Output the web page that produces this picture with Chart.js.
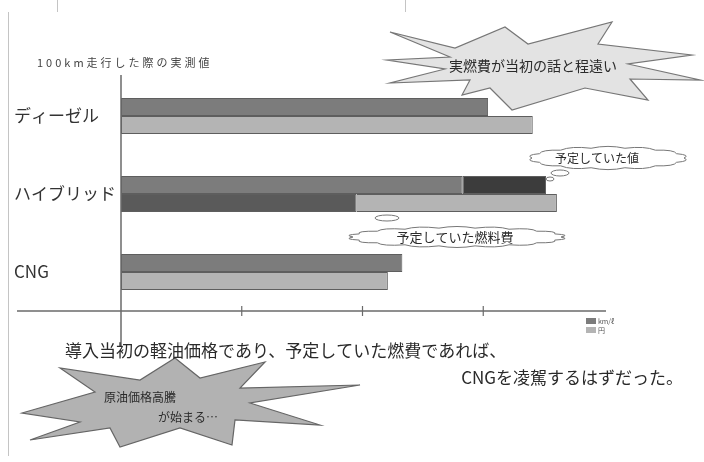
<!DOCTYPE html>
<html><head><meta charset="utf-8">
<script src="https://cdn.jsdelivr.net/npm/chart.js@4/dist/chart.umd.min.js"></script>
<style>html,body{margin:0;padding:0;background:#fff;}#wrap{width:704px;height:462px;}</style>
</head><body><div id="wrap"><canvas id="c" width="704" height="462"></canvas></div>
<script>
const categories = ['ディーゼル', 'ハイブリッド', 'CNG'];
const measuredTop = [3.04, 2.83, 2.33];
const plannedValueExtra = [0, 0.69, 0];
const plannedFuelCost = [0, 1.95, 0];
const measuredBottom = [3.41, 1.66, 2.21];
const xTicks = [0, 1, 2, 3, 4];
const legendLabels = ['km/ℓ', '円'];
const chartTitle = '100km走行した際の実測値';
const noteLines = ['導入当初の軽油価格であり、予定していた燃費であれば、', 'CNGを凌駕するはずだった。'];
const burstTop = '実燃費が当初の話と程遠い';
const burstBottom = ['原油価格高騰', 'が始まる…'];
const cloudA = '予定していた値';
const cloudB = '予定していた燃料費';

const JP = '"Noto Sans CJK JP", "Noto Sans", sans-serif';

function starPath(ctx, pts){
  ctx.beginPath();
  ctx.moveTo(pts[0][0], pts[0][1]);
  for (let i = 1; i < pts.length; i++) ctx.lineTo(pts[i][0], pts[i][1]);
  ctx.closePath();
}
function cloud(ctx, cx, cy, rx, ry, n){
  ctx.beginPath();
  for (let i = 0; i <= n; i++){
    const a = i / n * Math.PI * 2;
    const px = cx + rx * Math.cos(a), py = cy + ry * Math.sin(a);
    if (i === 0) { ctx.moveTo(px, py); continue; }
    const am = (i - 0.5) / n * Math.PI * 2;
    ctx.quadraticCurveTo(cx + rx * 1.12 * Math.cos(am), cy + ry * 1.35 * Math.sin(am), px, py);
  }
  ctx.closePath();
}

const decor = {
  id: 'decor',
  afterDraw(chart){
    const ctx = chart.ctx, xs = chart.scales.x, ca = chart.chartArea;
    ctx.save();
    // frame
    ctx.strokeStyle = '#c4c4c4'; ctx.lineWidth = 1;
    ctx.beginPath(); ctx.moveTo(8.5, 12); ctx.lineTo(8.5, 456); ctx.stroke();
    ctx.beginPath(); ctx.moveTo(57.5, 0); ctx.lineTo(57.5, 12); ctx.moveTo(405.5, 0); ctx.lineTo(405.5, 12); ctx.stroke();
    // axes
    const x0 = xs.getPixelForValue(0);
    ctx.strokeStyle = '#6a6a6a'; ctx.lineWidth = 1.5;
    ctx.beginPath(); ctx.moveTo(17, ca.bottom); ctx.lineTo(xs.getPixelForValue(xTicks[xTicks.length-1]) + 2, ca.bottom); ctx.stroke();
    ctx.beginPath(); ctx.moveTo(x0, ca.top - 2); ctx.lineTo(x0, ca.bottom + 36); ctx.stroke();
    ctx.lineWidth = 1.2;
    xTicks.slice(1, -1).forEach(v => {
      const px = xs.getPixelForValue(v);
      ctx.beginPath(); ctx.moveTo(px, ca.bottom - 5); ctx.lineTo(px, ca.bottom + 5); ctx.stroke();
    });
    // title
    ctx.fillStyle = '#444'; ctx.font = '11px ' + JP; ctx.textBaseline = 'middle'; ctx.textAlign = 'left';
    ctx.letterSpacing = '3px';
    ctx.fillText(chartTitle, 37, 63);
    ctx.letterSpacing = '0px';
    // legend
    const ds = chart.data.datasets;
    [ds[0], ds[3]].forEach((d, i) => {
      ctx.fillStyle = d.backgroundColor;
      ctx.fillRect(586, 318 + i * 9, 10, 6);
      ctx.fillStyle = '#555'; ctx.font = '7px ' + JP;
      ctx.fillText(legendLabels[i], 598, 321 + i * 9);
    });
    // top-right burst
    const p1 = [[390,32],[455,48],[505,27],[528,44],[612,22],[598,44],[692,55],[628,64],[700,80],[630,79],[648,100],[585,88],[512,110],[490,88],[462,95],[470,80],[390,83],[445,69],[387,60],[450,57]];
    starPath(ctx, p1); ctx.fillStyle = '#e3e3e3'; ctx.fill(); ctx.strokeStyle = '#777'; ctx.lineWidth = 1.2; ctx.stroke();
    ctx.fillStyle = '#2a2a2a'; ctx.font = '14px ' + JP; ctx.textAlign = 'center';
    ctx.fillText(burstTop, 533, 66);
    // bottom-left burst
    const p2 = [[22,413],[95,392],[60,368],[140,380],[175,358],[200,378],[265,362],[240,388],[360,385],[250,403],[320,425],[235,420],[232,445],[180,428],[120,447],[110,428],[30,440],[80,422]];
    starPath(ctx, p2); ctx.fillStyle = '#b2b2b2'; ctx.fill(); ctx.strokeStyle = '#666'; ctx.stroke();
    ctx.fillStyle = '#2a2a2a'; ctx.font = '12px ' + JP; ctx.textAlign = 'left';
    ctx.fillText(burstBottom[0], 104, 397);
    ctx.fillText(burstBottom[1], 158, 417);
    // clouds
    ctx.strokeStyle = '#777'; ctx.lineWidth = 1; ctx.fillStyle = '#fff';
    cloud(ctx, 608, 158, 76, 10, 14); ctx.fill(); ctx.stroke();
    ctx.beginPath(); ctx.ellipse(560, 173, 9, 3, 0, 0, Math.PI * 2); ctx.stroke();
    ctx.beginPath(); ctx.ellipse(550, 179, 4, 2, 0, 0, Math.PI * 2); ctx.stroke();
    ctx.fillStyle = '#2a2a2a'; ctx.font = '12px ' + JP; ctx.textAlign = 'center';
    ctx.fillText(cloudA, 597, 158);
    ctx.fillStyle = '#fff';
    cloud(ctx, 457, 237, 104, 9, 18); ctx.fill(); ctx.stroke();
    ctx.beginPath(); ctx.ellipse(387, 218, 12, 3, 0, 0, Math.PI * 2); ctx.stroke();
    ctx.fillStyle = '#2a2a2a'; ctx.font = '13px ' + JP;
    ctx.fillText(cloudB, 455, 237);
    // notes
    ctx.font = '17px ' + JP; ctx.textAlign = 'left'; ctx.fillStyle = '#2a2a2a';
    ctx.fillText(noteLines[0], 65, 351);
    ctx.textAlign = 'right';
    ctx.fillText(noteLines[1], 683, 378);
    ctx.restore();
  }
};

new Chart(document.getElementById('c'), {
  type: 'bar',
  data: {
    labels: categories,
    datasets: [
      { label: legendLabels[0], data: measuredTop, stack: 'top', backgroundColor: '#7c7c7c' },
      { label: cloudA, data: plannedValueExtra, stack: 'top', backgroundColor: '#3c3c3c' },
      { label: cloudB, data: plannedFuelCost, stack: 'bottom', backgroundColor: '#5a5a5a' },
      { label: legendLabels[1], data: measuredBottom, stack: 'bottom', backgroundColor: '#b4b4b4' }
    ]
  },
  options: {
    indexAxis: 'y',
    responsive: false,
    animation: false,
    devicePixelRatio: 1,
    layout: { padding: { top: 77, bottom: 151, left: 14, right: 100 } },
    datasets: { bar: { categoryPercentage: 0.46, barPercentage: 1.0, borderColor: '#5e5e5e', borderWidth: 1, borderSkipped: false } },
    plugins: { legend: { display: false }, tooltip: { enabled: false }, title: { display: false } },
    scales: {
      x: { stacked: true, min: xTicks[0], max: xTicks[xTicks.length - 1], display: false },
      y: {
        stacked: true,
        grid: { display: false },
        border: { display: false },
        afterFit(s){ s.width = 107; },
        ticks: { crossAlign: 'far', color: '#333', font: { family: JP, size: 17 } }
      }
    }
  },
  plugins: [decor]
});
</script>
</body></html>
